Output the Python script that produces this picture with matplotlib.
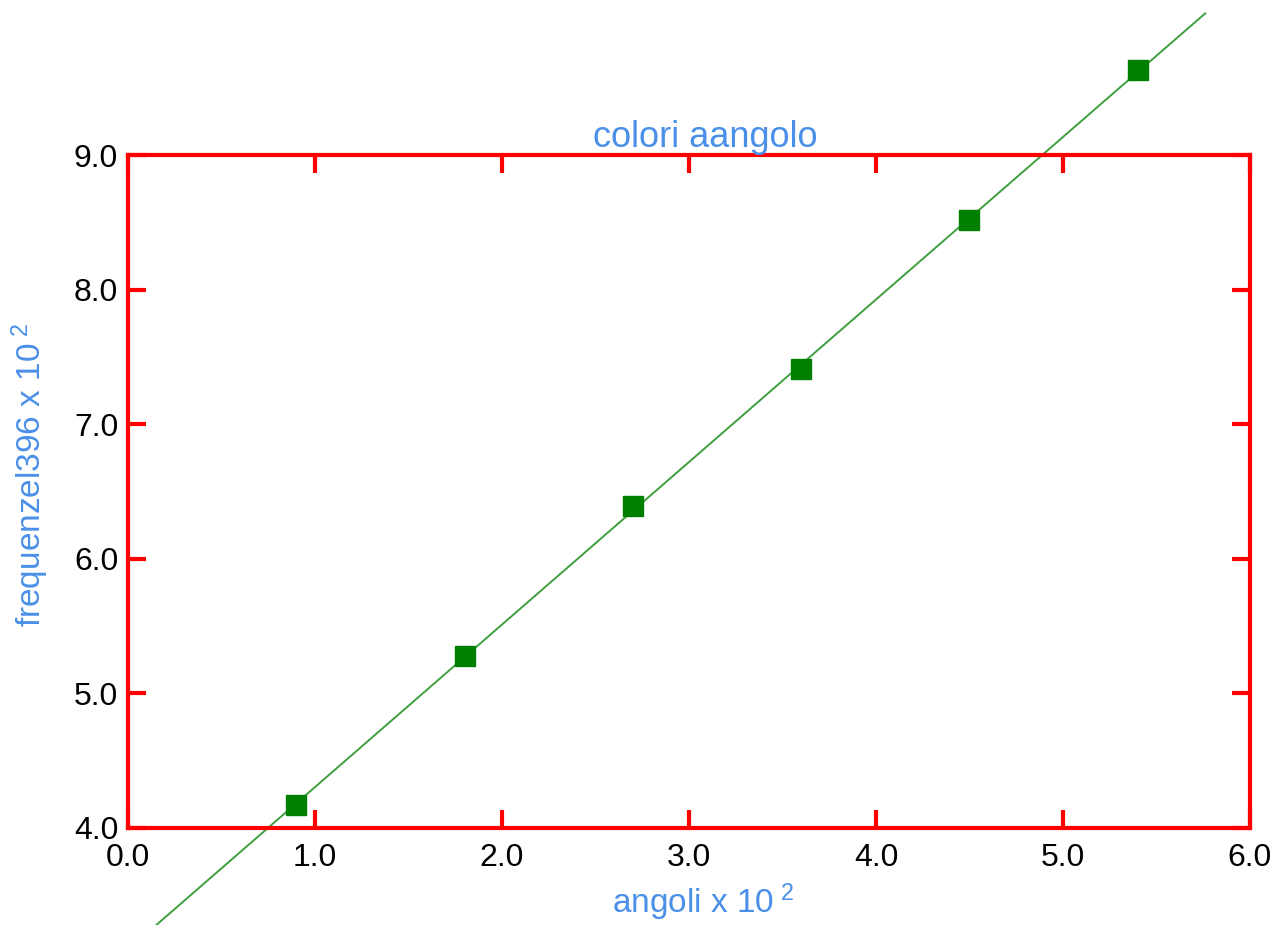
import numpy as np
import matplotlib
matplotlib.use("Agg")
import matplotlib.pyplot as plt

plt.rcParams['font.family'] = ['Liberation Sans', 'DejaVu Sans']
plt.rcParams['mathtext.fontset'] = 'custom'
plt.rcParams['mathtext.rm'] = 'Liberation Sans'
plt.rcParams['mathtext.it'] = 'Liberation Sans'

# data
angoli = [0.9, 1.8, 2.7, 3.6, 4.5, 5.4]
frequenze = [4.17, 5.28, 6.39, 7.41, 8.52, 9.63]
fit_range = [0.14, 5.76]
xticks = [0, 1, 2, 3, 4, 5, 6]
yticks = [4, 5, 6, 7, 8, 9]

title = "colori aangolo"
xlabel = r"angoli x 10$^{\ 2}$"
ylabel = r"frequenzel396 x 10$^{\ 2}$"

blue = "#4a8fe8"
red = "#ff0000"

fig = plt.figure(figsize=(12.86, 9.25), dpi=100)
ax = fig.add_axes([0.0995, 0.1049, 0.8725, 0.7275])

coef = np.polyfit(angoli, frequenze, 1)
fx = np.array(fit_range)
ax.plot(fx, np.polyval(coef, fx), color="#3f9f3f", lw=1.4, clip_on=False, zorder=2)
ax.plot(angoli, frequenze, 's', color="#007f00", ms=15, clip_on=False, zorder=3)

ax.set_xlim(0, 6)
ax.set_ylim(4, 9)
ax.set_xticks(xticks)
ax.set_yticks(yticks)
ax.set_xticklabels([f"{v:.1f}" for v in xticks])
ax.set_yticklabels([f"{v:.1f}" for v in yticks])

for s in ax.spines.values():
    s.set_color(red)
    s.set_linewidth(3)
ax.tick_params(which='both', direction='in', color=red, width=3, length=13,
               top=True, right=True, labelsize=23, labelcolor='black')
ax.tick_params(axis='x', pad=11)
ax.tick_params(axis='y', pad=7)

ax.set_title(title, color=blue, fontsize=26, pad=6, x=0.515)
ax.set_xlabel(xlabel, color=blue, fontsize=24)
ax.xaxis.set_label_coords(0.5125, -0.079)
ax.set_ylabel(ylabel, color=blue, fontsize=24)
ax.yaxis.set_label_coords(-0.0687, 0.5245)

fig.savefig("out.png", dpi=100)
